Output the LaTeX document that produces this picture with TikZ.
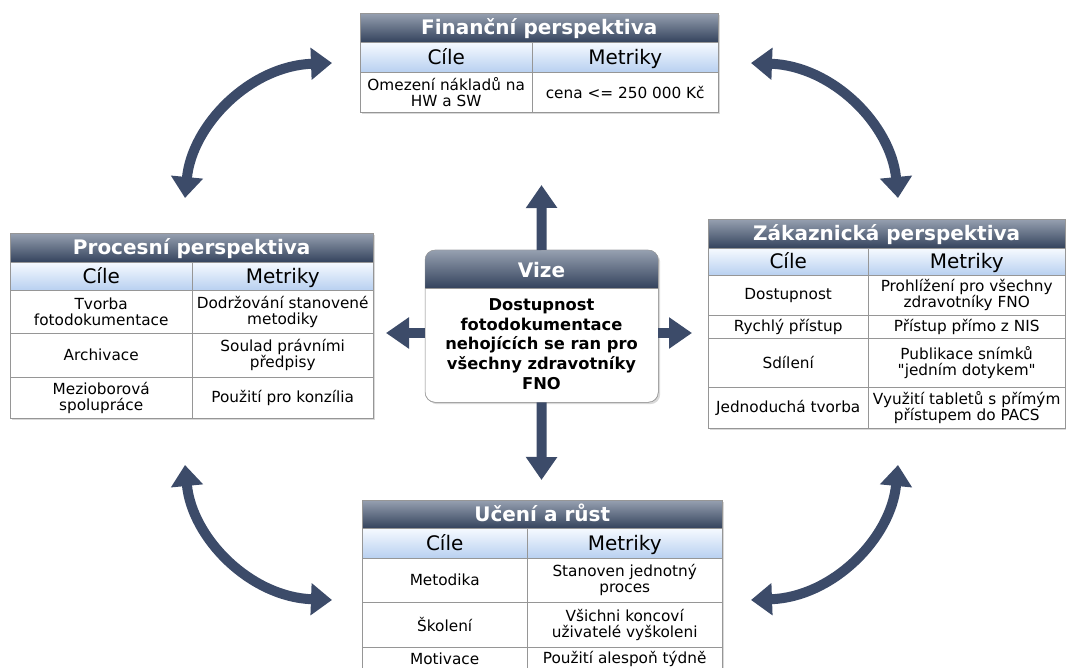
\documentclass[tikz,border=0pt]{standalone}
\usepackage{fontspec}
\setmainfont{DejaVu Sans}
\usetikzlibrary{arrows.meta,shadows}

\definecolor{navy}{RGB}{60,75,105}
\definecolor{barlight}{RGB}{150,160,176}
\definecolor{bardark}{RGB}{52,67,93}
\definecolor{headlight}{RGB}{246,250,255}
\definecolor{headdark}{RGB}{184,208,240}
\definecolor{gridgray}{RGB}{150,150,150}

\tikzset{
  tableframe/.style={draw=gridgray,fill=white,anchor=north west,inner sep=0pt,
    drop shadow={shadow xshift=2pt,shadow yshift=-2pt,opacity=0.3}},
  titlebar/.style={draw=gridgray,top color=barlight,bottom color=bardark,text=white,
    anchor=north west,inner sep=0pt,text height=16pt,text depth=2pt,
    font=\fontsize{20}{22}\selectfont\bfseries},
  headcell/.style={draw=gridgray,top color=headlight,bottom color=headdark,
    anchor=north west,inner sep=0pt,text height=16pt,text depth=2pt,
    font=\fontsize{20}{22}\selectfont},
  bodycell/.style={draw=gridgray,fill=white,anchor=north west,inner sep=0pt,
    align=center,font=\fontsize{15.3}{16}\selectfont},
  bigarrow/.style={navy,line width=10pt,-{Triangle[width=30pt,length=23pt]}},
  arcarrow/.style={navy,line width=10pt,
    {Triangle[width=31pt,length=21pt]}-{Triangle[width=31pt,length=21pt]}}
}

\begin{document}
\begin{tikzpicture}[x=1pt,y=-1pt]
  \useasboundingbox (0,0) rectangle (1066,668);

  % financni perspektiva
  \node[tableframe,minimum width=358,minimum height=99] (fin) at (360,13) {};
  \node[titlebar,minimum width=358,minimum height=29] (fin-title) at (360,13) {Finanční perspektiva};
  \node[headcell,minimum width=172,minimum height=30] (fin-cile) at (360,42) {Cíle};
  \node[headcell,minimum width=186,minimum height=30] (fin-metr) at (532,42) {Metriky};
  \node[bodycell,minimum width=172,minimum height=40] (fin-c1) at (360,72) {Omezení nákladů na\\HW a SW};
  \node[bodycell,minimum width=186,minimum height=40] (fin-m1) at (532,72) {cena <= 250 000 Kč};

  % procesni perspektiva
  \node[tableframe,minimum width=363,minimum height=185] (proc) at (10,233) {};
  \node[titlebar,minimum width=363,minimum height=29] (proc-title) at (10,233) {Procesní perspektiva};
  \node[headcell,minimum width=182,minimum height=28] (proc-cile) at (10,262) {Cíle};
  \node[headcell,minimum width=181,minimum height=28] (proc-metr) at (192,262) {Metriky};
  \node[bodycell,minimum width=182,minimum height=43] (proc-c1) at (10,290) {Tvorba\\fotodokumentace};
  \node[bodycell,minimum width=181,minimum height=43] (proc-m1) at (192,290) {Dodržování stanovené\\metodiky};
  \node[bodycell,minimum width=182,minimum height=44] (proc-c2) at (10,333) {Archivace};
  \node[bodycell,minimum width=181,minimum height=44] (proc-m2) at (192,333) {Soulad právními\\předpisy};
  \node[bodycell,minimum width=182,minimum height=41] (proc-c3) at (10,377) {Mezioborová\\spolupráce};
  \node[bodycell,minimum width=181,minimum height=41] (proc-m3) at (192,377) {Použití pro konzília};

  % zakaznicka perspektiva
  \node[tableframe,minimum width=357,minimum height=209] (zak) at (708,219) {};
  \node[titlebar,minimum width=357,minimum height=29] (zak-title) at (708,219) {Zákaznická perspektiva};
  \node[headcell,minimum width=160,minimum height=27] (zak-cile) at (708,248) {Cíle};
  \node[headcell,minimum width=197,minimum height=27] (zak-metr) at (868,248) {Metriky};
  \node[bodycell,minimum width=160,minimum height=40] (zak-c1) at (708,275) {Dostupnost};
  \node[bodycell,minimum width=197,minimum height=40] (zak-m1) at (868,275) {Prohlížení pro všechny\\zdravotníky FNO};
  \node[bodycell,minimum width=160,minimum height=23] (zak-c2) at (708,315) {Rychlý přístup};
  \node[bodycell,minimum width=197,minimum height=23] (zak-m2) at (868,315) {Přístup přímo z NIS};
  \node[bodycell,minimum width=160,minimum height=49] (zak-c3) at (708,338) {Sdílení};
  \node[bodycell,minimum width=197,minimum height=49] (zak-m3) at (868,338) {Publikace snímků\\\textquotedbl jedním dotykem\textquotedbl};
  \node[bodycell,minimum width=160,minimum height=41] (zak-c4) at (708,387) {Jednoduchá tvorba};
  \node[bodycell,minimum width=197,minimum height=41] (zak-m4) at (868,387) {Využití tabletů s přímým\\přístupem do PACS};

  % uceni a rust
  \node[tableframe,minimum width=360,minimum height=170] (uc) at (362,500) {};
  \node[titlebar,minimum width=360,minimum height=28] (uc-title) at (362,500) {Učení a růst};
  \node[headcell,minimum width=165,minimum height=30] (uc-cile) at (362,528) {Cíle};
  \node[headcell,minimum width=195,minimum height=30] (uc-metr) at (527,528) {Metriky};
  \node[bodycell,minimum width=165,minimum height=44] (uc-c1) at (362,558) {Metodika};
  \node[bodycell,minimum width=195,minimum height=44] (uc-m1) at (527,558) {Stanoven jednotný\\proces};
  \node[bodycell,minimum width=165,minimum height=45] (uc-c2) at (362,602) {Školení};
  \node[bodycell,minimum width=195,minimum height=45] (uc-m2) at (527,602) {Všichni koncoví\\uživatelé vyškoleni};
  \node[bodycell,minimum width=165,minimum height=23] (uc-c3) at (362,647) {Motivace};
  \node[bodycell,minimum width=195,minimum height=23] (uc-m3) at (527,647) {Použití alespoň týdně};

  % vize
  \node[draw=gridgray,fill=white,rounded corners=10pt,anchor=north west,
    minimum width=233,minimum height=152,
    drop shadow={shadow xshift=2pt,shadow yshift=-2pt,opacity=0.3}] (vize) at (425,250) {};
  \begin{scope}
    \clip[rounded corners=10pt] (vize.south west) rectangle (vize.north east);
    \shade[top color=barlight,bottom color=bardark] (vize.north west) rectangle ([yshift=-38pt]vize.north east);
  \end{scope}
  \draw[gridgray] ([yshift=-38pt]vize.north west) -- ([yshift=-38pt]vize.north east);
  \draw[gridgray,rounded corners=10pt] (vize.south west) rectangle (vize.north east);
  \node[text=white,font=\fontsize{20}{22}\selectfont\bfseries] (vize-title) at (541.5,270) {Vize};
  \node[align=center,font=\fontsize{16.3}{19.7}\selectfont\bfseries] (vize-text) at (541.5,344)
    {Dostupnost\\fotodokumentace\\nehojících se ran pro\\všechny zdravotníky\\FNO};

  % sipky z vize
  \coordinate (upend) at (541.5,185);
  \coordinate (downend) at (541.5,480);
  \coordinate (leftend) at (386,333);
  \coordinate (rightend) at (692,333);
  \draw[bigarrow] (vize.north) -- (upend);
  \draw[bigarrow] (vize.south) -- (downend);
  \draw[bigarrow] (vize.west |- leftend) -- (leftend);
  \draw[bigarrow] (vize.east |- rightend) -- (rightend);

  % oblouky mezi perspektivami
  \coordinate (tl-a) at (185,198);
  \coordinate (tl-b) at (332,63);
  \coordinate (tr-a) at (751,63);
  \coordinate (tr-b) at (898,198);
  \coordinate (bl-a) at (185,465);
  \coordinate (bl-b) at (332,600);
  \coordinate (br-a) at (751,600);
  \coordinate (br-b) at (898,465);
  \draw[arcarrow] (tl-a) .. controls (192,125) and (250,66) .. (tl-b);
  \draw[arcarrow] (tr-a) .. controls (833,66) and (891,125) .. (tr-b);
  \draw[arcarrow] (bl-a) .. controls (192,538) and (250,597) .. (bl-b);
  \draw[arcarrow] (br-a) .. controls (833,597) and (891,538) .. (br-b);
\end{tikzpicture}
\end{document}
